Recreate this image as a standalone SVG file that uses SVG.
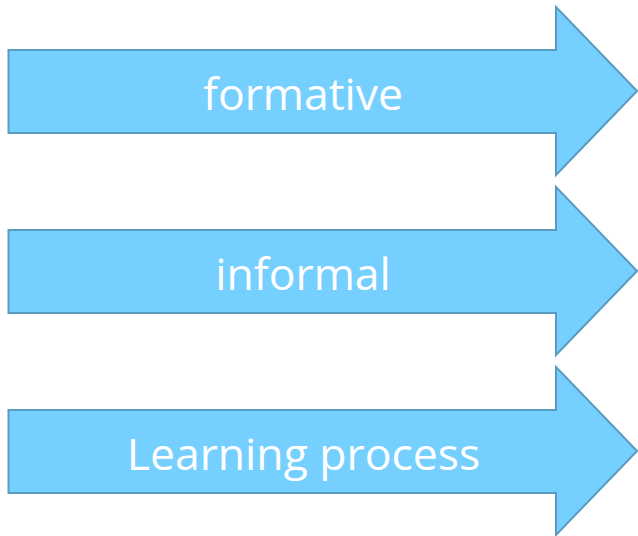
<svg xmlns="http://www.w3.org/2000/svg" width="638" height="536" viewBox="0 0 638 536">
<style>
.arrow{fill:#75CFFF;stroke:#5A9CC0;stroke-width:2;stroke-linejoin:miter}
.lbl{fill:#FFFFFF;font-family:"Open Sans","Noto Sans",sans-serif;font-size:44.5px;text-anchor:middle}
</style>
<rect width="638" height="536" fill="#FFFFFF"/>
<g id="arrow-formative">
<path class="arrow" d="M8.5,50 H556 V7 L637,91 L556,175 V133 H8.5 Z"/>
<text class="lbl" x="303" y="109.5">formative</text>
</g>
<g id="arrow-informal">
<path class="arrow" d="M8.5,230 H556 V187 L637,271 L556,355 V313 H8.5 Z"/>
<text class="lbl" x="303" y="289.5">informal</text>
</g>
<g id="arrow-learning">
<path class="arrow" d="M8.5,410 H556 V367 L637,451 L556,535 V493 H8.5 Z"/>
<text class="lbl" x="303.5" y="469.5">Learning process</text>
</g>
<g id="connectors"/>
</svg>
